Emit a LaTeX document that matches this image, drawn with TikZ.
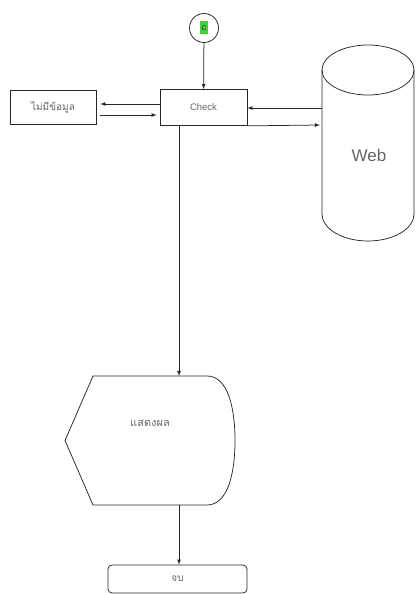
\documentclass[tikz,border=0pt]{standalone}
\usepackage{fontspec}
\setmainfont{Liberation Sans}
\newfontfamily\thaifont[Script=Thai]{Loma}
\usepackage{tikz}
\usetikzlibrary{arrows.meta,arrows}
\usetikzlibrary{calc}
\usetikzlibrary{positioning}
\definecolor{HiGreen}{RGB}{70,205,60}
\colorlet{LineGray}{black!85}
\colorlet{TextGray}{black!60}

\begin{document}
\begin{tikzpicture}[x=1pt, y=-1pt, line width=0.75pt, draw=LineGray,
  box/.style={draw, rectangle, inner sep=0pt, text=TextGray, font=\fontsize{9.5}{11}\selectfont},
  flow/.style={arrows=-latex}]

\useasboundingbox (0,0) rectangle (415,594);

% start connector
\node[circle, draw, minimum size=29pt, inner sep=0pt] (start) at (204,28) {};
\node[fill=HiGreen, inner sep=0pt, minimum width=8pt, minimum height=13pt,
  text=black!75, font=\fontsize{9}{10}\selectfont] (startlbl) at (start) {c};

% Check box
\node[box, minimum width=87pt, minimum height=36pt] (check) at (203.5,107.5) {Check};
\draw[flow] (start) -- (check);

% no data box
\node[box, minimum width=86pt, minimum height=34pt, font=\thaifont\fontsize{10}{11}\selectfont] (nodata) at (53,107) {ไม่มีข้อมูล};

\draw[flow] ($(check.west)+(0,-3.5)$) -- ($(nodata.east)+(4,-3)$);
\draw[flow] ($(nodata.east)+(4,8)$) -- ($(check.west)+(-3,7.5)$);

% Web cylinder
\def \xWebL {322}
\def \xWebR {414}
\def \yWebT {70}
\def \yWebB {214}
\draw (368,\yWebT) ellipse (46 and 25);
\draw (\xWebL,\yWebT) -- (\xWebL,\yWebB)
  arc[start angle=180, end angle=0, x radius=46, y radius=27]
  -- (\xWebR,\yWebT);
\node[text=TextGray, font=\fontsize{17}{20}\selectfont] (web) at (369,155) {Web};
\coordinate (webin) at (\xWebL,108);
\coordinate (webout) at (\xWebL-2,125);

\draw[flow] (webin) -- (check.east |- webin);
\draw[flow] (check.south east) -- (webout);

% display shape
\def \yDT {376}
\def \yDB {505}
\draw (93,\yDT) -- (207,\yDT)
  .. controls (228,\yDT) and (235,408) .. (235,440.5)
  .. controls (235,473) and (228,\yDB) .. (207,\yDB)
  -- (93,\yDB) -- (65,440.5) -- cycle;
\node[text=TextGray, font=\thaifont\fontsize{11}{12}\selectfont] (disp) at (150,423) {แสดงผล};
\coordinate (disptop) at (179,\yDT);
\coordinate (dispbot) at (179,\yDB);

\draw[flow] (check.south -| disptop) -- (disptop);

% end box
\node[box, rounded corners=4pt, minimum width=139pt, minimum height=28pt, font=\thaifont\fontsize{10}{11}\selectfont] (finish) at (177.5,579) {จบ};
\draw[flow] (dispbot) -- (finish.north -| dispbot);

\end{tikzpicture}
\end{document}
